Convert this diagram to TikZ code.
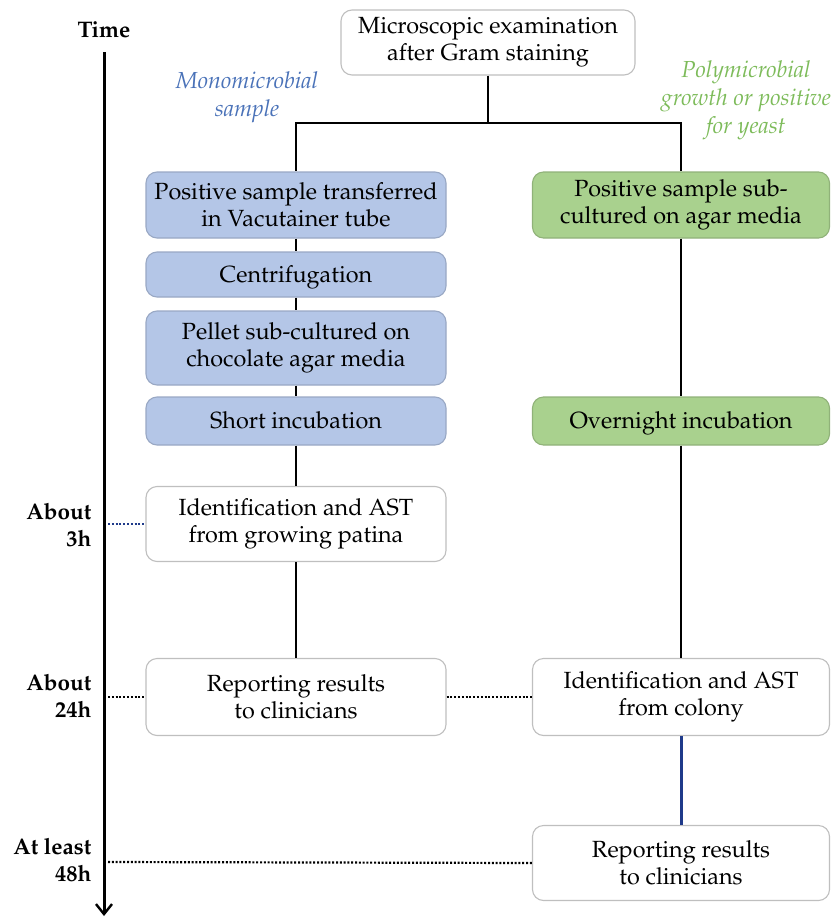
\documentclass[tikz,border=0pt]{standalone}
\usepackage[T1]{fontenc}
\renewcommand{\rmdefault}{ppl}
\usetikzlibrary{arrows.meta}
\definecolor{bluefill}{HTML}{B4C6E7}
\definecolor{greenfill}{HTML}{A9D18E}
\definecolor{boxline}{HTML}{BFBFBF}
\definecolor{monoblue}{HTML}{4A72B8}
\definecolor{polygreen}{HTML}{7DBB5A}
\definecolor{navyline}{HTML}{1F3A8A}
\begin{document}
\begin{tikzpicture}[x=1pt,y=-1pt,
  box/.style={draw=boxline, line width=1.1pt, rounded corners=11pt, align=center,
    inner sep=0pt, font=\fontsize{23.4}{27}\selectfont, anchor=center},
  oneline/.style={text height=21pt, text depth=6pt},
  bluebox/.style={box, fill=bluefill, draw=bluefill!85!black},
  greenbox/.style={box, fill=greenfill, draw=greenfill!85!black},
  whitebox/.style={box, fill=white},
  conn/.style={line width=2pt, black},
  dots/.style={line width=2.2pt, dash pattern=on 2pt off 1.8pt},
  tlabel/.style={font=\fontsize{22.5}{27}\selectfont\bfseries, align=right, anchor=east},
  branch/.style={font=\fontsize{23.2}{28}\selectfont\itshape, align=center}
]
\useasboundingbox (0,0) rectangle (831,918);

% time axis
\node[font=\fontsize{22.5}{26}\selectfont\bfseries] (time) at (104,30) {Time};
\coordinate (tA) at (104,52);
\coordinate (tB) at (104,916);
\draw[line width=3pt, -{Straight Barb[length=10pt,width=16pt,line width=2.4pt]}] (tA) -- (tB);

% boxes
\node[whitebox, minimum width=294pt, minimum height=65pt] (top) at (488,42.5) {Microscopic examination\\after Gram staining};

\node[bluebox, minimum width=300pt, minimum height=66pt] (L1) at (296,205) {Positive sample transferred\\in Vacutainer tube};
\node[bluebox, oneline, minimum width=300pt, minimum height=45pt] (L2) at (296,274.5) {Centrifugation};
\node[bluebox, minimum width=300pt, minimum height=74pt] (L3) at (296,348) {Pellet sub-cultured on\\chocolate agar media};
\node[bluebox, oneline, minimum width=300pt, minimum height=48pt] (L4) at (296,421) {Short incubation};
\node[whitebox, minimum width=300pt, minimum height=75pt] (L5) at (296,524) {Identification and AST\\from growing patina};
\node[whitebox, minimum width=300pt, minimum height=77pt] (L6) at (296,697) {Reporting results\\to clinicians};

\node[greenbox, minimum width=297pt, minimum height=66pt] (R1) at (681,205) {Positive sample sub-\\cultured on agar media};
\node[greenbox, oneline, minimum width=297pt, minimum height=48pt] (R4) at (681,421) {Overnight incubation};
\node[whitebox, minimum width=297pt, minimum height=77pt] (R6) at (681,697) {Identification and AST\\from colony};
\node[whitebox, minimum width=297pt, minimum height=75pt] (R7) at (681,863) {Reporting results\\to clinicians};

% branch labels
\node[branch, text=monoblue] (mono) at (247,97) {Monomicrobial\\sample};
\node[branch, text=polygreen] (poly) at (746,100) {Polymicrobial\\growth or positive\\for yeast};

% connectors
\coordinate (split) at (488,123);
\draw[conn] (top.south) -- (split);
\draw[conn] (split) -| (L1.north);
\draw[conn] (split) -| (R1.north);
\draw[conn] (L1.south) -- (L2.north);
\draw[conn] (L2.south) -- (L3.north);
\draw[conn] (L3.south) -- (L4.north);
\draw[conn] (L4.south) -- (L5.north);
\draw[conn] (L5.south) -- (L6.north);
\draw[conn] (R1.south) -- (R4.north);
\draw[conn] (R4.south) -- (R6.north);
\draw[line width=3pt, navyline] (R6.south) -- (R7.north);

% time markers
\coordinate (m3) at (108,524);
\coordinate (m24) at (108,697);
\coordinate (m48) at (108,862);
\draw[dots, navyline] (m3) -- (L5.west);
\draw[dots] (m24) -- (L6.west);
\draw[dots] (L6.east) -- (R6.west);
\draw[dots] (m48) -- (R7.west);

\node[tlabel] (t3) at (95,524.5) {About\\3h};
\node[tlabel] (t24) at (95,695.5) {About\\24h};
\node[tlabel] (t48) at (95,859.5) {At least\\48h};
\end{tikzpicture}
\end{document}
